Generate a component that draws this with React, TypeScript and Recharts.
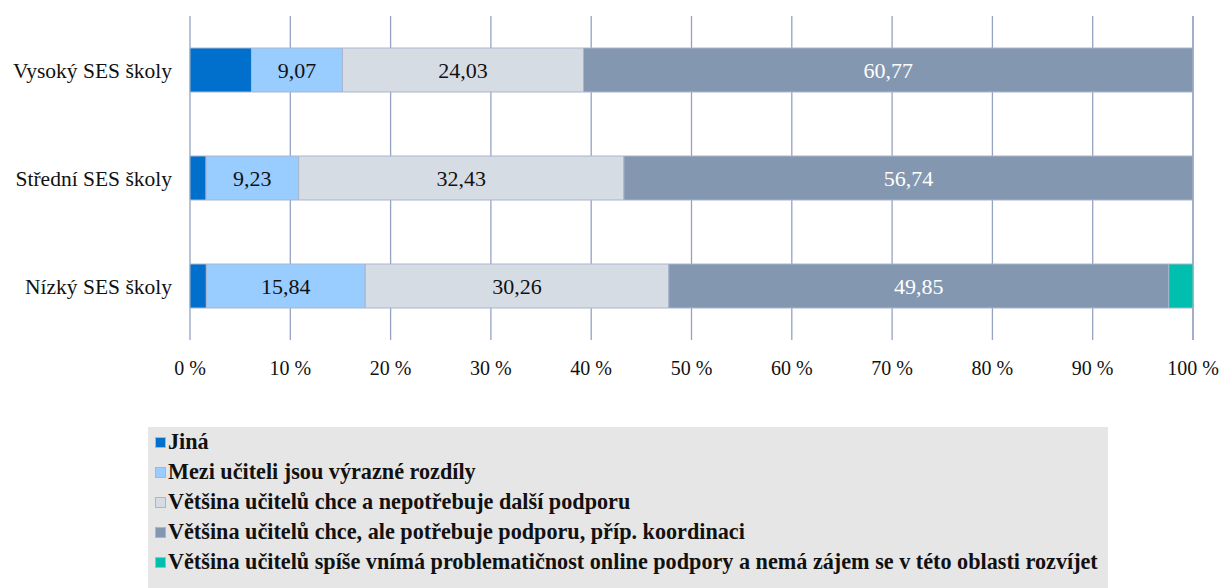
import React from "react";
import { BarChart, Bar, XAxis, YAxis, CartesianGrid, LabelList } from "recharts";

const categories = ["Vysoký SES školy", "Střední SES školy", "Nízký SES školy"];
const jina = [6.13, 1.6, 1.63];
const rozdily = [9.07, 9.23, 15.84];
const nepotrebuje = [24.03, 32.43, 30.26];
const potrebuje = [60.77, 56.74, 49.85];
const problem = [0, 0, 2.42];
const xTicks = [0, 10, 20, 30, 40, 50, 60, 70, 80, 90, 100];

const series = [
  { key: "jina", name: "Jiná", color: "#0070CC", label: null },
  { key: "rozdily", name: "Mezi učiteli jsou výrazné rozdíly", color: "#99CCFF", label: "#111" },
  { key: "nepotrebuje", name: "Většina učitelů chce a nepotřebuje další podporu", color: "#D6DCE4", label: "#111" },
  { key: "potrebuje", name: "Většina učitelů chce, ale potřebuje podporu, příp. koordinaci", color: "#8497B0", label: "#fff" },
  { key: "problem", name: "Většina učitelů spíše vnímá problematičnost online podpory a nemá zájem se v této oblasti rozvíjet", color: "#00BFAE", label: null },
];

const data = categories.map((name, i) => ({
  name,
  jina: jina[i],
  rozdily: rozdily[i],
  nepotrebuje: nepotrebuje[i],
  potrebuje: potrebuje[i],
  problem: problem[i],
}));

const fmt = (v: any) => Number(v).toFixed(2).replace(".", ",");
const FONT = '"Liberation Serif", "Times New Roman", serif';

export default function App() {
  return (
    <div style={{ position: "fixed", left: 0, top: 0, width: 1220, height: 588, background: "#fff", fontFamily: FONT, overflow: "hidden" }}>
      <BarChart
        width={1220}
        height={400}
        data={data}
        layout="vertical"
        margin={{ top: 16, right: 27, bottom: 0, left: 0 }}
        barSize={44}
      >
        <CartesianGrid horizontal={false} stroke="#95A3C3" strokeWidth={1.3} />
        <XAxis
          type="number"
          domain={[0, 100]}
          ticks={xTicks}
          tickFormatter={(v) => `${v} %`}
          axisLine={false}
          tickLine={false}
          tickSize={0}
          tickMargin={21}
          height={60}
          tick={{ fill: "#111", fontSize: 20, fontFamily: FONT }}
        />
        <YAxis
          type="category"
          dataKey="name"
          width={190}
          axisLine={false}
          tickLine={false}
          tickSize={0}
          tickMargin={18}
          tick={{ fill: "#111", fontSize: 21.5, fontFamily: FONT }}
        />
        {series.map((s) => (
          <Bar key={s.key} dataKey={s.key} stackId="a" fill={s.color} stroke="#A9B5CC" strokeWidth={1} isAnimationActive={false}>
            {s.label && (
              <LabelList dataKey={s.key} position="center" formatter={fmt} fill={s.label} style={{ fontSize: 22, fontFamily: FONT }} />
            )}
          </Bar>
        ))}
      </BarChart>
      <div style={{ position: "absolute", left: 148, top: 427, width: 960, height: 170, background: "#E7E6E6" }}>
        {series.map((s) => (
          <div key={s.key} style={{ height: 30, display: "flex", alignItems: "center", paddingLeft: 7 }}>
            <span style={{ display: "inline-block", width: 9, height: 9, background: s.color, border: "1px solid #A9B5CC", marginRight: 2, marginTop: 1 }} />
            <span style={{ fontWeight: "bold", fontSize: 22.2, color: "#111", whiteSpace: "nowrap" }}>{s.name}</span>
          </div>
        ))}
      </div>
    </div>
  );
}
